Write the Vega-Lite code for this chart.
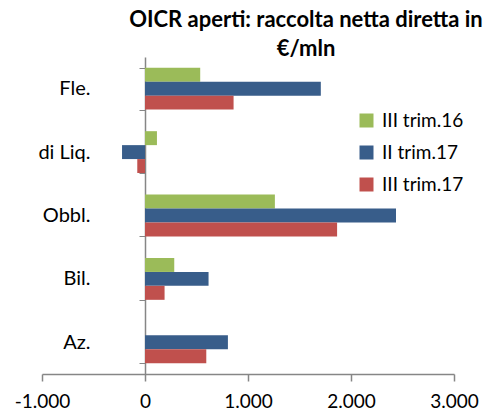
{
  "$schema": "https://vega.github.io/schema/vega-lite/v6.json",
  "autosize": {"type": "none"},
  "padding": {"left": 42, "top": 57, "right": 36, "bottom": 39},
  "width": 412,
  "height": 317,
  "background": "white",
  "config": {"font": "Lato", "view": {"stroke": null}},
  "title": {
    "text": ["OICR aperti: raccolta netta diretta in", "€/mln"],
    "font": "Lato",
    "fontSize": 22,
    "fontWeight": "bold",
    "color": "#000000",
    "anchor": "middle",
    "dx": 58,
    "offset": -14,
    "lineHeight": 29
  },
  "data": {
    "values": [
      {"cat": "Fle.", "serie": "III trim.16", "v": 536},
      {"cat": "Fle.", "serie": "II trim.17", "v": 1707},
      {"cat": "Fle.", "serie": "III trim.17", "v": 860},
      {"cat": "di Liq.", "serie": "III trim.16", "v": 116},
      {"cat": "di Liq.", "serie": "II trim.17", "v": -223},
      {"cat": "di Liq.", "serie": "III trim.17", "v": -75},
      {"cat": "Obbl.", "serie": "III trim.16", "v": 1261},
      {"cat": "Obbl.", "serie": "II trim.17", "v": 2437},
      {"cat": "Obbl.", "serie": "III trim.17", "v": 1865},
      {"cat": "Bil.", "serie": "III trim.16", "v": 284},
      {"cat": "Bil.", "serie": "II trim.17", "v": 617},
      {"cat": "Bil.", "serie": "III trim.17", "v": 190},
      {"cat": "Az.", "serie": "III trim.16", "v": 0},
      {"cat": "Az.", "serie": "II trim.17", "v": 805},
      {"cat": "Az.", "serie": "III trim.17", "v": 595}
    ]
  },
  "mark": {"type": "bar"},
  "encoding": {
    "y": {
      "field": "cat",
      "type": "nominal",
      "sort": ["Fle.", "di Liq.", "Obbl.", "Bil.", "Az."],
      "scale": {"paddingInner": 0.34, "paddingOuter": 0.17},
      "axis": {
        "title": null,
        "offset": -103,
        "tickBand": "extent",
        "tickSize": 6,
        "tickColor": "#868686",
        "domainColor": "#868686",
        "domainWidth": 1.5,
        "labelFontSize": 20,
        "labelColor": "#000000",
        "labelPadding": 49,
        "labelFont": "Lato"
      }
    },
    "yOffset": {
      "field": "serie",
      "type": "nominal",
      "sort": ["III trim.16", "II trim.17", "III trim.17"]
    },
    "x": {
      "field": "v",
      "type": "quantitative",
      "scale": {"domain": [-1000, 3000], "nice": false, "zero": false},
      "axis": {
        "title": null,
        "values": [-1000, 0, 1000, 2000, 3000],
        "grid": false,
        "tickSize": 7,
        "tickColor": "#868686",
        "domainColor": "#868686",
        "domainWidth": 1.5,
        "tickWidth": 1.5,
        "labelFontSize": 19,
        "labelColor": "#000000",
        "labelPadding": 11,
        "labelFont": "Lato",
        "labelFlush": false,
        "labelExpr": "replace(replace(format(datum.value, ','), ',', '.'), '−', '-')"
      }
    },
    "color": {
      "field": "serie",
      "type": "nominal",
      "sort": ["III trim.16", "II trim.17", "III trim.17"],
      "scale": {
        "domain": ["III trim.16", "II trim.17", "III trim.17"],
        "range": ["#9BBB59", "#385D8A", "#C0504D"]
      },
      "legend": {
        "title": null,
        "orient": "none",
        "legendX": 315,
        "legendY": 54,
        "symbolType": "square",
        "symbolSize": 196,
        "symbolStrokeWidth": 0,
        "labelFontSize": 19,
        "labelFont": "Lato",
        "labelColor": "#000000",
        "labelOffset": 6,
        "rowPadding": 12,
        "padding": 0
      }
    }
  }
}
